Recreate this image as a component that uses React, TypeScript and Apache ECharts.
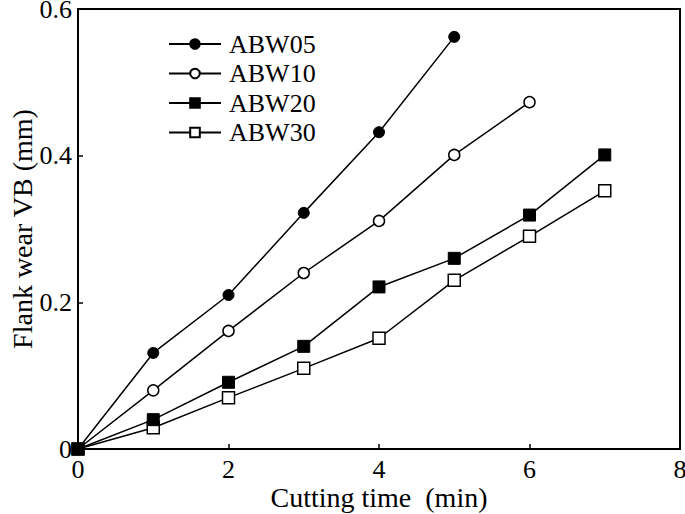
import React, { useEffect, useRef } from "react";
import * as echarts from "echarts";

const xTicks = [0, 2, 4, 6, 8];
const abw05 = [[0, 0], [1, 0.131], [2, 0.21], [3, 0.322], [4, 0.432], [5, 0.562]];
const abw10 = [[0, 0], [1, 0.08], [2, 0.161], [3, 0.24], [4, 0.311], [5, 0.401], [6, 0.473]];
const abw20 = [[0, 0], [1, 0.04], [2, 0.091], [3, 0.14], [4, 0.221], [5, 0.26], [6, 0.319], [7, 0.401]];
const abw30 = [[0, 0], [1, 0.029], [2, 0.07], [3, 0.11], [4, 0.151], [5, 0.23], [6, 0.29], [7, 0.352]];

const FONT = "Liberation Serif";

export default function App() {
  const ref = useRef<HTMLDivElement>(null);
  useEffect(() => {
    if (!ref.current) return;
    const chart = echarts.init(ref.current, null, { renderer: "svg" });
    const mk = (name: string, data: number[][], symbol: string, filled: boolean, size: number) => ({
      name,
      type: "line",
      data,
      symbol,
      symbolSize: size,
      showAllSymbol: true,
      color: "#000",
      lineStyle: { color: "#000", width: 1.5 },
      itemStyle: filled
        ? { color: "#000", borderColor: "#000", borderWidth: 1 }
        : { color: "#fff", borderColor: "#000", borderWidth: 1.5 },
      emphasis: { disabled: true },
      z: filled ? 3 : 2,
    });
    chart.setOption({
      animation: false,
      backgroundColor: "#fff",
      grid: {
        left: 78,
        right: 5,
        top: 9,
        bottom: 65,
        show: true,
        borderColor: "#000",
        borderWidth: 2,
        outerBoundsMode: "none",
      },
      legend: {
        orient: "vertical",
        left: 168,
        top: 31,
        padding: 0,
        itemWidth: 52,
        itemHeight: 12,
        itemGap: 3.5,
        textStyle: { fontFamily: FONT, fontSize: 26, color: "#000", padding: [0, 0, 0, 3] },
        data: ["ABW05", "ABW10", "ABW20", "ABW30"],
      },
      xAxis: {
        type: "value",
        min: 0,
        max: 8,
        interval: 2,
        name: "Cutting time  (min)",
        nameLocation: "middle",
        nameGap: 35,
        nameMoveOverlap: false,
        nameTextStyle: { fontFamily: FONT, fontSize: 28, color: "#000", lineHeight: 26 },
        axisLine: { show: true, lineStyle: { color: "#000", width: 2 } },
        axisTick: { show: true, inside: true, length: 5, lineStyle: { color: "#000", width: 1.5 } },
        axisLabel: {
          fontFamily: FONT,
          fontSize: 26,
          color: "#000",
          margin: 7,
          customValues: xTicks,
        },
        splitLine: { show: false },
      },
      yAxis: {
        type: "value",
        min: 0,
        max: 0.6,
        interval: 0.2,
        name: "Flank wear VB (mm)",
        nameLocation: "middle",
        nameGap: 42,
        nameMoveOverlap: false,
        nameTextStyle: { fontFamily: FONT, fontSize: 28, color: "#000" },
        axisLine: { show: true, lineStyle: { color: "#000", width: 2 } },
        axisTick: { show: true, inside: true, length: 5, lineStyle: { color: "#000", width: 1.5 } },
        axisLabel: {
          fontFamily: FONT,
          fontSize: 26,
          lineHeight: 18,
          color: "#000",
          margin: 6,
          formatter: (v: number) => (v === 0 ? "0" : v.toFixed(1)),
        },
        splitLine: { show: false },
      },
      series: [
        mk("ABW05", abw05, "circle", true, 11),
        mk("ABW10", abw10, "circle", false, 11),
        mk("ABW20", abw20, "rect", true, 12),
        mk("ABW30", abw30, "rect", false, 12),
      ],
    });
    return () => chart.dispose();
  }, []);
  return <div ref={ref} style={{ width: 685, height: 514, position: "absolute", left: 0, top: 0 }} />;
}
